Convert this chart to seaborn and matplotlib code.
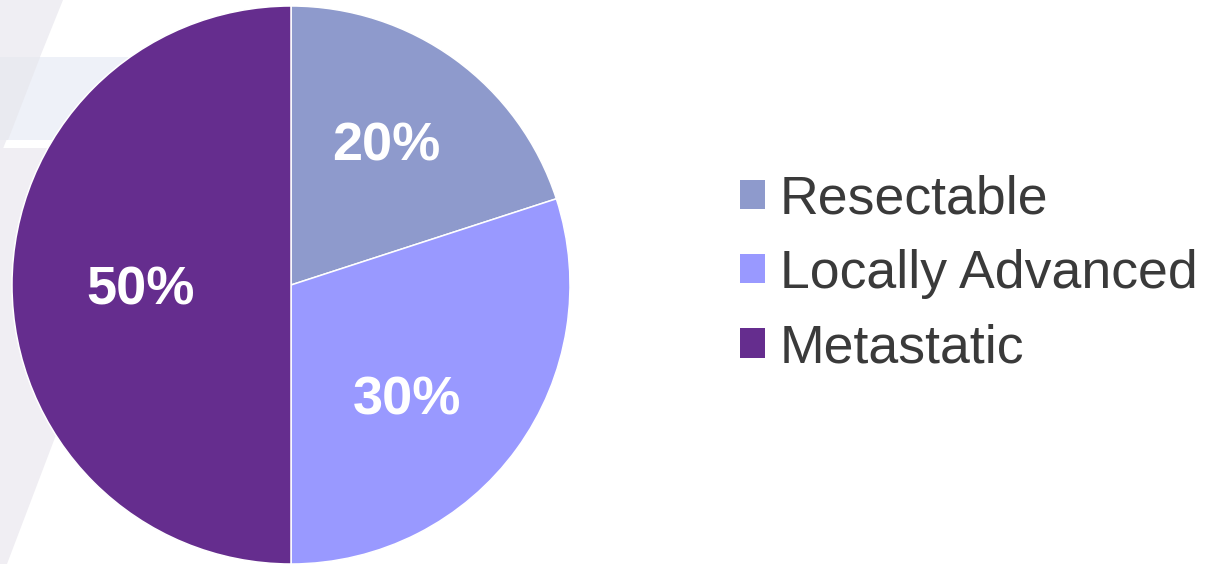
import matplotlib
matplotlib.use("Agg")
import matplotlib.pyplot as plt
from matplotlib.patches import Polygon
import seaborn as sns
import numpy as np

# Disease stage distribution at diagnosis
stages = ["Resectable", "Locally Advanced", "Metastatic"]
shares = [20, 30, 50]
stage_colors = ["#8E9ACC", "#9999FF", "#652D8E"]

sns.set_theme(style="white")
plt.rcParams["font.family"] = ["Liberation Sans", "DejaVu Sans"]

W, H = 1205, 564
fig = plt.figure(figsize=(W / 100, H / 100), dpi=100)
fig.patch.set_facecolor("white")


def fig_poly(pts, color):
    """Decorative background shape given in pixel coords (origin top-left)."""
    xy = [(x / W, 1 - y / H) for x, y in pts]
    fig.patches.append(Polygon(xy, closed=True, transform=fig.transFigure,
                               facecolor=color, edgecolor="none", zorder=-5))


# faint slide backdrop on the left
fig_poly([(0, 57), (330, 57), (330, 140), (0, 140)], "#EEF1F8")
fig_poly([(0, 0), (63, 0), (0, 156)], "#EFEEF3")
fig_poly([(0, 57), (40, 57), (8, 140), (0, 140)], "#E9EAF0")
fig_poly([(0, 148), (165, 148), (7, 564), (0, 564)], "#F0EEF3")

r_px = 279
cx, cy = 291, 285
ax = fig.add_axes([(cx - r_px) / W, 1 - (cy + r_px) / H, 2 * r_px / W, 2 * r_px / H])
ax.set_facecolor("none")
ax.set_zorder(2)

wedges, _ = ax.pie(shares, colors=stage_colors, startangle=90, counterclock=False,
                   radius=1.0,
                   wedgeprops=dict(edgecolor="white", linewidth=1.1))
ax.set_xlim(-1, 1)
ax.set_ylim(-1, 1)
ax.set_aspect("equal")
ax.axis("off")

# percentage labels placed inside each wedge
label_r = [0.61, 0.58, 0.54]
angle_shift = [2, -8, 1]
dy = -3 / r_px
for w, val, rr, da in zip(wedges, shares, label_r, angle_shift):
    mid = np.deg2rad((w.theta1 + w.theta2) / 2 + da)
    ax.text(rr * np.cos(mid), rr * np.sin(mid) + dy, f"{val}%", color="white",
            fontsize=39, fontweight="bold", ha="center", va="center")

leg = fig.legend(wedges, stages, loc="center left",
                 bbox_to_anchor=(740 / W, 1 - 274 / H),
                 frameon=False, fontsize=38.6, handlelength=0.46, handleheight=0.46,
                 handletextpad=0.28, labelspacing=0.45, borderpad=0, borderaxespad=0)
leg.set_zorder(3)
for t in leg.get_texts():
    t.set_color("#3A3A3A")
for h in leg.legend_handles:
    h.set_edgecolor("none")

fig.savefig("out.png", dpi=100)
